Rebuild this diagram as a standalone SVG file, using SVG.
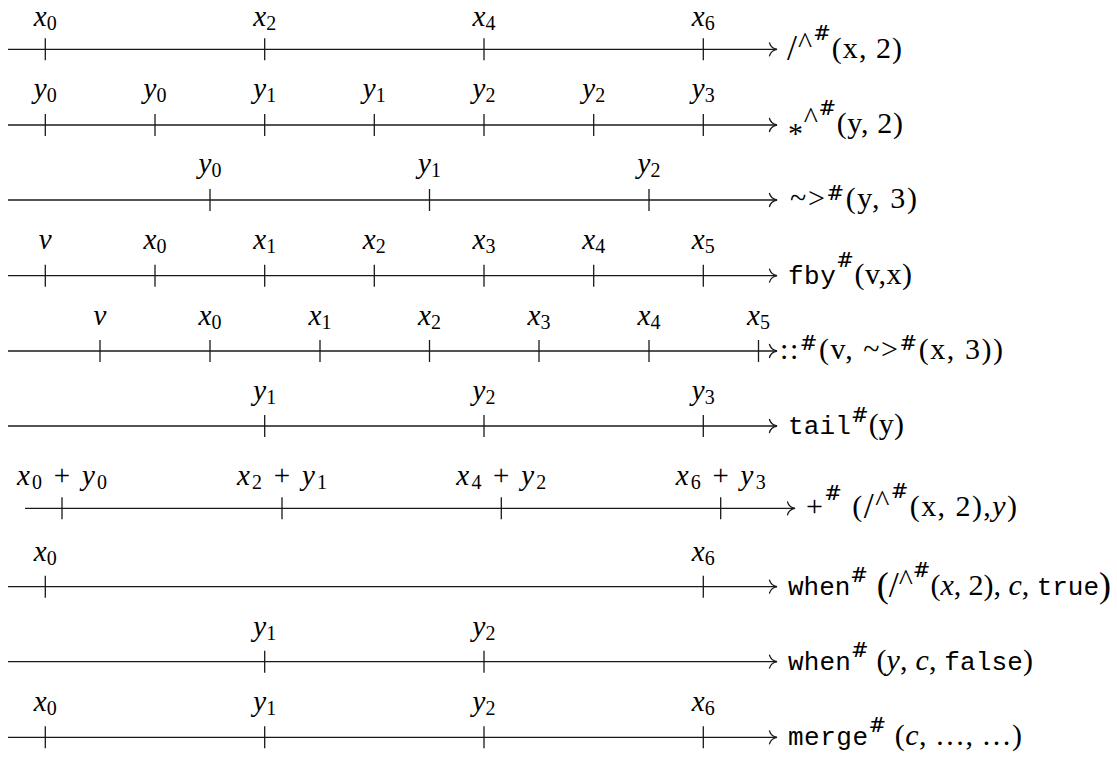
<svg xmlns="http://www.w3.org/2000/svg" width="1117" height="758" viewBox="0 0 1117 758">
<style>
.ax{stroke:#1a1a1a;stroke-width:1.3;fill:none}
.tk{stroke:#1a1a1a;stroke-width:1.3}
.tl{font-family:"Liberation Serif",serif;font-size:29px;font-style:italic;text-anchor:middle;fill:#000}
.sb{font-style:normal;font-size:20px}
.rm{font-style:normal}
.rl{font-family:"Liberation Serif",serif;font-size:30px;fill:#000}
.it{font-style:italic}
.tt{font-family:"Liberation Mono",monospace;font-size:26px}
.hs{font-family:"DejaVu Serif",serif;font-size:21px}
.sl{font-size:36px}
.bp{font-size:36px}
</style>
<defs>
<marker id="to" viewBox="-9 -8 10 16" markerWidth="10" markerHeight="16" refX="0" refY="0" orient="auto" markerUnits="userSpaceOnUse">
<path d="M -7.5,-6.5 C -6.5,-2.8 -3.5,-0.7 0,0 C -3.5,0.7 -6.5,2.8 -7.5,6.5" stroke="#1a1a1a" stroke-width="1.3" fill="none" stroke-linecap="round"/>
</marker>
</defs>
<g id="connectors">
<line class="ax" x1="8" y1="49.3" x2="777" y2="49.3" marker-end="url(#to)"/>
<line class="ax" x1="8" y1="125" x2="777" y2="125" marker-end="url(#to)"/>
<line class="ax" x1="8" y1="200" x2="777" y2="200" marker-end="url(#to)"/>
<line class="ax" x1="8" y1="275.7" x2="777" y2="275.7" marker-end="url(#to)"/>
<line class="ax" x1="8" y1="351" x2="777" y2="351" marker-end="url(#to)"/>
<line class="ax" x1="8" y1="426" x2="777" y2="426" marker-end="url(#to)"/>
<line class="ax" x1="25" y1="508.3" x2="795" y2="508.3" marker-end="url(#to)"/>
<line class="ax" x1="8" y1="586.7" x2="777" y2="586.7" marker-end="url(#to)"/>
<line class="ax" x1="8" y1="661.7" x2="777" y2="661.7" marker-end="url(#to)"/>
<line class="ax" x1="8" y1="737.3" x2="777" y2="737.3" marker-end="url(#to)"/>
</g>
<g id="row1">
<path class="tk" d="M45.3,38.3V60.3M264.7,38.3V60.3M484,38.3V60.3M703.3,38.3V60.3"/>
<text class="tl" x="45.3" y="26">x<tspan class="sb" dy="4">0</tspan></text>
<text class="tl" x="264.7" y="26">x<tspan class="sb" dy="4">2</tspan></text>
<text class="tl" x="484" y="26">x<tspan class="sb" dy="4">4</tspan></text>
<text class="tl" x="703.3" y="26">x<tspan class="sb" dy="4">6</tspan></text>
<text class="rl" x="787" y="58" textLength="115" lengthAdjust="spacing"><tspan class="sl" dy="2">/</tspan><tspan dy="-7">^</tspan><tspan class="hs" dy="-13">#</tspan><tspan dy="18">(x, 2)</tspan></text>
</g>
<g id="row2">
<path class="tk" d="M45.3,114V136M155,114V136M264.7,114V136M374.3,114V136M484,114V136M593.7,114V136M703.3,114V136"/>
<text class="tl" x="45.3" y="98">y<tspan class="sb" dy="4">0</tspan></text>
<text class="tl" x="155" y="98">y<tspan class="sb" dy="4">0</tspan></text>
<text class="tl" x="264.7" y="98">y<tspan class="sb" dy="4">1</tspan></text>
<text class="tl" x="374.3" y="98">y<tspan class="sb" dy="4">1</tspan></text>
<text class="tl" x="484" y="98">y<tspan class="sb" dy="4">2</tspan></text>
<text class="tl" x="593.7" y="98">y<tspan class="sb" dy="4">2</tspan></text>
<text class="tl" x="703.3" y="98">y<tspan class="sb" dy="4">3</tspan></text>
<text class="rl" x="788" y="133" textLength="115" lengthAdjust="spacing"><tspan dy="10">*</tspan><tspan dy="-15">^</tspan><tspan class="hs" dy="-13">#</tspan><tspan dy="18">(y, 2)</tspan></text>
</g>
<g id="row3">
<path class="tk" d="M210,189V211M429.5,189V211M649,189V211"/>
<text class="tl" x="210" y="173">y<tspan class="sb" dy="4">0</tspan></text>
<text class="tl" x="429.5" y="173">y<tspan class="sb" dy="4">1</tspan></text>
<text class="tl" x="649" y="173">y<tspan class="sb" dy="4">2</tspan></text>
<text class="rl" x="790" y="208" textLength="127" lengthAdjust="spacing">~&gt;<tspan class="hs" dy="-8">#</tspan><tspan dy="8">(y, 3)</tspan></text>
</g>
<g id="row4">
<path class="tk" d="M45.3,264.7V286.7M155,264.7V286.7M264.7,264.7V286.7M374.3,264.7V286.7M484,264.7V286.7M593.7,264.7V286.7M703.3,264.7V286.7"/>
<text class="tl" x="45.3" y="249">v</text>
<text class="tl" x="155" y="249">x<tspan class="sb" dy="4">0</tspan></text>
<text class="tl" x="264.7" y="249">x<tspan class="sb" dy="4">1</tspan></text>
<text class="tl" x="374.3" y="249">x<tspan class="sb" dy="4">2</tspan></text>
<text class="tl" x="484" y="249">x<tspan class="sb" dy="4">3</tspan></text>
<text class="tl" x="593.7" y="249">x<tspan class="sb" dy="4">4</tspan></text>
<text class="tl" x="703.3" y="249">x<tspan class="sb" dy="4">5</tspan></text>
<text class="rl" x="788" y="284" textLength="124" lengthAdjust="spacing"><tspan class="tt">fby</tspan><tspan class="hs" dy="-17">#</tspan><tspan dy="17">(v,x)</tspan></text>
</g>
<g id="row5">
<path class="tk" d="M100,340V362M210,340V362M320,340V362M429.5,340V362M539,340V362M649,340V362M758.5,340V362"/>
<text class="tl" x="100" y="325">v</text>
<text class="tl" x="210" y="325">x<tspan class="sb" dy="4">0</tspan></text>
<text class="tl" x="320" y="325">x<tspan class="sb" dy="4">1</tspan></text>
<text class="tl" x="429.5" y="325">x<tspan class="sb" dy="4">2</tspan></text>
<text class="tl" x="539" y="325">x<tspan class="sb" dy="4">3</tspan></text>
<text class="tl" x="649" y="325">x<tspan class="sb" dy="4">4</tspan></text>
<text class="tl" x="758.5" y="325">x<tspan class="sb" dy="4">5</tspan></text>
<text class="rl" x="780" y="359" textLength="223" lengthAdjust="spacing">::<tspan class="hs" dy="-9">#</tspan><tspan dy="9">(v, ~&gt;</tspan><tspan class="hs" dy="-9">#</tspan><tspan dy="9">(x, 3))</tspan></text>
</g>
<g id="row6">
<path class="tk" d="M264.7,415V437M484,415V437M703.3,415V437"/>
<text class="tl" x="264.7" y="400">y<tspan class="sb" dy="4">1</tspan></text>
<text class="tl" x="484" y="400">y<tspan class="sb" dy="4">2</tspan></text>
<text class="tl" x="703.3" y="400">y<tspan class="sb" dy="4">3</tspan></text>
<text class="rl" x="788" y="434" textLength="116" lengthAdjust="spacing"><tspan class="tt">tail</tspan><tspan class="hs" dy="-12">#</tspan><tspan dy="12">(y)</tspan></text>
</g>
<g id="row7">
<path class="tk" d="M62,497.3V519.3M282,497.3V519.3M501.3,497.3V519.3M720.7,497.3V519.3"/>
<text class="tl" x="62" y="485" textLength="90" lengthAdjust="spacing">x<tspan class="sb" dy="4">0</tspan><tspan class="rm" dy="-4"> + </tspan>y<tspan class="sb" dy="4">0</tspan></text>
<text class="tl" x="282" y="485" textLength="90" lengthAdjust="spacing">x<tspan class="sb" dy="4">2</tspan><tspan class="rm" dy="-4"> + </tspan>y<tspan class="sb" dy="4">1</tspan></text>
<text class="tl" x="501.3" y="485" textLength="90" lengthAdjust="spacing">x<tspan class="sb" dy="4">4</tspan><tspan class="rm" dy="-4"> + </tspan>y<tspan class="sb" dy="4">2</tspan></text>
<text class="tl" x="720.7" y="485" textLength="90" lengthAdjust="spacing">x<tspan class="sb" dy="4">6</tspan><tspan class="rm" dy="-4"> + </tspan>y<tspan class="sb" dy="4">3</tspan></text>
<text class="rl" x="806" y="516" textLength="211" lengthAdjust="spacing">+<tspan class="hs" dy="-16">#</tspan><tspan dy="16"> (</tspan><tspan class="sl" dy="2">/</tspan><tspan dy="-7">^</tspan><tspan class="hs" dy="-13">#</tspan><tspan dy="18">(x, 2),</tspan><tspan class="it">y</tspan>)</text>
</g>
<g id="row8">
<path class="tk" d="M45.3,575.7V597.7M703.3,575.7V597.7"/>
<text class="tl" x="45.3" y="561">x<tspan class="sb" dy="4">0</tspan></text>
<text class="tl" x="703.3" y="561">x<tspan class="sb" dy="4">6</tspan></text>
<text class="rl" x="788" y="595" textLength="323" lengthAdjust="spacing"><tspan class="tt">when</tspan><tspan class="hs" dy="-13">#</tspan><tspan class="bp" dy="15"> (</tspan><tspan class="sl">/</tspan><tspan dy="-7">^</tspan><tspan class="hs" dy="-13">#</tspan><tspan dy="18">(</tspan><tspan class="it">x</tspan>, 2), <tspan class="it">c</tspan>, <tspan class="tt">true</tspan><tspan class="bp" dy="2">)</tspan></text>
</g>
<g id="row9">
<path class="tk" d="M264.7,650.7V672.7M484,650.7V672.7"/>
<text class="tl" x="264.7" y="636">y<tspan class="sb" dy="4">1</tspan></text>
<text class="tl" x="484" y="636">y<tspan class="sb" dy="4">2</tspan></text>
<text class="rl" x="788" y="670" textLength="245" lengthAdjust="spacing"><tspan class="tt">when</tspan><tspan class="hs" dy="-13">#</tspan><tspan dy="13"> (</tspan><tspan class="it">y</tspan>, <tspan class="it">c</tspan>, <tspan class="tt">false</tspan>)</text>
</g>
<g id="row10">
<path class="tk" d="M45.3,726.3V748.3M264.7,726.3V748.3M484,726.3V748.3M703.3,726.3V748.3"/>
<text class="tl" x="45.3" y="711">x<tspan class="sb" dy="4">0</tspan></text>
<text class="tl" x="264.7" y="711">y<tspan class="sb" dy="4">1</tspan></text>
<text class="tl" x="484" y="711">y<tspan class="sb" dy="4">2</tspan></text>
<text class="tl" x="703.3" y="711">x<tspan class="sb" dy="4">6</tspan></text>
<text class="rl" x="788" y="745" textLength="234" lengthAdjust="spacing"><tspan class="tt">merge</tspan><tspan class="hs" dy="-13">#</tspan><tspan dy="13"> (</tspan><tspan class="it">c</tspan>, …, …)</text>
</g>
</svg>
